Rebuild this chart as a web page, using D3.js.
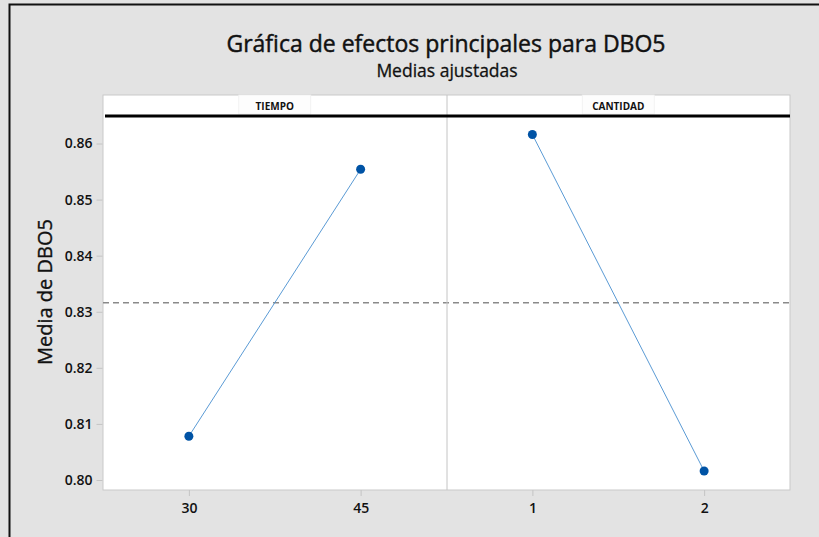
<!DOCTYPE html>
<html>
<head>
<meta charset="utf-8">
<script src="https://cdn.jsdelivr.net/npm/d3@7"></script>
<style>
  html, body { margin: 0; padding: 0; background: #e3e3e3; }
  svg { display: block; }
  text { font-family: "Open Sans", "Noto Sans", sans-serif; fill: #111; }
  .heavy { stroke: #111; stroke-width: 0.45px; }
</style>
</head>
<body>
<svg id="chart" width="819" height="537"></svg>
<script>
// Adjusted means of DBO5 by factor level
const factors = ["TIEMPO", "CANTIDAD"];
const tiempoLevels = ["30", "45"];
const tiempoMeans = [0.8078, 0.8554];
const cantidadLevels = ["1", "2"];
const cantidadMeans = [0.8616, 0.8016];
const grandMean = 0.8316;
const yTicks = [0.80, 0.81, 0.82, 0.83, 0.84, 0.85, 0.86];

const panels = [
  { name: factors[0], levels: tiempoLevels, means: tiempoMeans },
  { name: factors[1], levels: cantidadLevels, means: cantidadMeans }
];

const svg = d3.select("#chart");
const W = 819, H = 537;

// Outer frame
svg.append("rect").attr("x", 0).attr("y", 0).attr("width", W).attr("height", H).attr("fill", "#e3e3e3");
svg.append("path").attr("d", `M9.5,${H} V4.5 H${W}`).attr("fill", "none").attr("stroke", "#111").attr("stroke-width", 2);

// Titles
svg.append("text").attr("class", "heavy").attr("x", 446).attr("y", 52).attr("text-anchor", "middle")
  .style("font-size", "23px").text("Gráfica de efectos principales para DBO5");
svg.append("text").attr("class", "heavy").attr("x", 447).attr("y", 77).attr("text-anchor", "middle")
  .style("font-size", "17.5px").style("stroke-width", "0.3px").text("Medias ajustadas");

const plot = { left: 103, right: 790, top: 95, bottom: 490, strip: 116 };
const panelW = (plot.right - plot.left) / panels.length;

const y = d3.scaleLinear().domain([0.80, 0.86]).range([480, 143.5]);

// Plot background
svg.append("rect").attr("x", plot.left).attr("y", plot.top)
  .attr("width", plot.right - plot.left).attr("height", plot.bottom - plot.top)
  .attr("fill", "#fff").attr("stroke", "#c9c9c9").attr("stroke-width", 1);

// Y axis
const yAxis = d3.axisLeft(y).tickValues(yTicks).tickFormat(d3.format(".2f")).tickSize(6).tickPadding(4);
const gy = svg.append("g").attr("transform", `translate(${plot.left - 0.5},0)`).call(yAxis);
gy.select(".domain").remove();
gy.selectAll(".tick line").attr("stroke", "#c4c4c4");
gy.selectAll(".tick text").style("font-size", "14px").style("font-weight", "600").attr("fill", "#111");

svg.append("text").attr("class", "heavy").attr("transform", "translate(52,292) rotate(-90)").attr("text-anchor", "middle")
  .style("font-size", "20px").style("stroke-width", "0.35px").text("Media de DBO5");

// Mean reference line
svg.append("line").attr("x1", plot.left).attr("x2", plot.right)
  .attr("y1", y(grandMean)).attr("y2", y(grandMean))
  .attr("stroke", "#8a8a8a").attr("stroke-width", 1.5).attr("stroke-dasharray", "6,4");

panels.forEach((p, i) => {
  const x0 = plot.left + i * panelW, x1 = x0 + panelW;
  const x = d3.scalePoint().domain(p.levels).range([x0, x1]).padding(0.5);

  // Divider between panels
  if (i > 0) {
    svg.append("line").attr("x1", x0 + 0.5).attr("x2", x0 + 0.5).attr("y1", plot.top).attr("y2", plot.bottom)
      .attr("stroke", "#c4c4c4").attr("stroke-width", 1);
  }

  // Header strip label
  const cx = (x0 + x1) / 2;
  svg.append("rect").attr("x", cx - 36).attr("y", plot.top).attr("width", 72).attr("height", plot.strip - plot.top - 2)
    .attr("fill", "#fdfdfd").attr("stroke", "#f0f0f0").attr("stroke-width", 0.8);
  svg.append("text").attr("x", cx).attr("y", 110).attr("text-anchor", "middle")
    .style("font-size", "10px").style("font-weight", "700").text(p.name);

  // X axis
  const xAxis = d3.axisBottom(x).tickSize(6).tickPadding(7);
  const gx = svg.append("g").attr("transform", `translate(0,${plot.bottom})`).call(xAxis);
  gx.select(".domain").remove();
  gx.selectAll(".tick line").attr("stroke", "#c4c4c4");
  gx.selectAll(".tick text").style("font-size", "14px").style("font-weight", "600").attr("fill", "#111");

  const pts = p.levels.map((l, k) => [x(l), y(p.means[k])]);
  svg.append("path").attr("d", d3.line()(pts)).attr("fill", "none")
    .attr("stroke", "#5b9bd5").attr("stroke-width", 1);
  svg.selectAll(null).data(pts).enter().append("circle")
    .attr("cx", d => d[0]).attr("cy", d => d[1]).attr("r", 4.5).attr("fill", "#0053a5");
});

// Thick line under the header strip
svg.append("line").attr("x1", plot.left + 2).attr("x2", plot.right).attr("y1", plot.strip).attr("y2", plot.strip)
  .attr("stroke", "#000").attr("stroke-width", 3);
</script>
</body>
</html>
